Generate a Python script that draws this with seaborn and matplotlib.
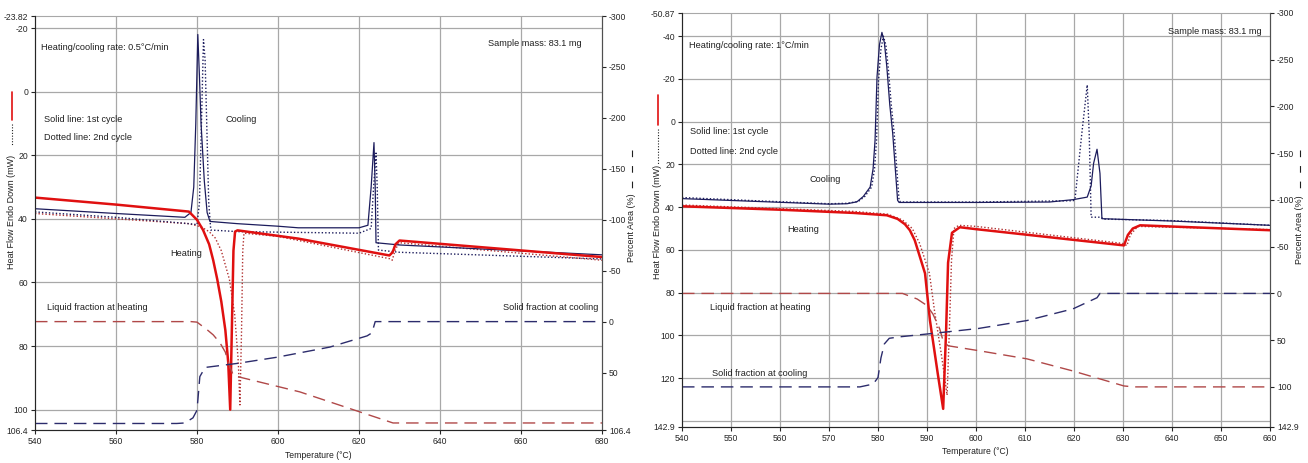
import numpy as np
import pandas as pd
import seaborn as sns
import matplotlib.pyplot as plt
from matplotlib.lines import Line2D

# ---- 0.5 C/min panel (left) ----
# heat flow curves (mW, left axis)
heat1_T_a = [540, 560, 578, 580, 581.5, 583, 584, 585, 586, 587, 587.7, 588.2, 588.6, 589.0, 589.4, 590, 605, 627.5, 628.3, 629, 630, 680]
heat1_v_a = [33.3, 35.5, 37.7, 40.3, 43.5, 48, 53, 59, 66, 75, 85, 100, 75, 50, 44, 43.6, 46.2, 51.5, 50.5, 48, 46.8, 52]
heat2_T_a = [540, 578, 581, 583, 584.5, 586, 588, 589.3, 590.2, 590.6, 591.0, 591.3, 591.6, 600, 627.5, 628.2, 629, 630, 680]
heat2_v_a = [38.3, 41.5, 42.5, 44, 46, 50, 59, 70, 85, 98.5, 75, 50, 44.5, 45.5, 52.5, 53, 49.5, 47.5, 53]
cool1_T_a = [540, 560, 577, 578.5, 579.2, 579.7, 580.2, 580.6, 581.0, 581.8, 582.5, 583.2, 590, 600, 605, 620, 622.2, 623.0, 623.7, 624.0, 624.2, 630, 680]
cool1_v_a = [36.8, 38.3, 39.5, 38, 30, 10, -18, -5, 10, 28, 38, 40.8, 41.5, 42.3, 42.8, 42.8, 42, 30, 16, 30, 47.5, 48.2, 51.3]
cool2_T_a = [540, 560, 578, 580, 580.6, 581.1, 581.6, 582.0, 582.4, 582.9, 583.4, 590, 620, 623, 623.6, 624.2, 624.5, 624.8, 630, 680]
cool2_v_a = [37.8, 39.5, 41.5, 41.8, 35, 10, -16.4, -10, 10, 35, 43.5, 44, 44.5, 43, 30, 19.3, 30, 49.8, 50.5, 52.6]
# percent area curves (%, right axis)
liq_T_a = [540, 578.5, 580, 582.5, 584, 585.7, 587, 587.7, 588.2, 589.0, 605.4, 628.4, 680]
liq_v_a = [0, 0, 0.5, 8, 13, 21, 30, 40, 45, 53, 69, 99.5, 99.5]
sol_T_a = [540, 575, 577, 579, 580, 580.7, 582, 590, 599.7, 612.8, 622, 623.2, 624, 680]
sol_v_a = [100, 100, 99.5, 94.5, 87, 54, 45, 41, 35, 25, 14, 11, 0, 0]

# ---- 1 C/min panel (right) ----
heat1_T_b = [540, 560, 575, 581.8, 584, 585.5, 586.5, 587.5, 589.6, 590.6, 592.2, 593.3, 593.9, 594.3, 595.1, 596.7, 600, 630.2, 631, 632, 633.5, 645, 660]
heat1_v_b = [39.6, 41.2, 42.7, 43.8, 45.5, 48, 50.8, 55.5, 71, 93, 118, 134.4, 97.7, 66, 52, 49.4, 50.3, 57.9, 53, 50, 48.5, 49.5, 50.8]
heat2_T_b = [540, 575, 582, 585, 587, 588.5, 590.5, 591.5, 593, 594.1, 594.6, 595, 595.5, 596.5, 600, 630, 630.8, 631.5, 633, 660]
heat2_v_b = [39, 42, 43.3, 46, 50, 57, 71, 88, 110, 128, 95, 65, 50, 48.5, 49, 57, 58, 53, 49, 50.5]
cool1_T_b = [540, 555, 570, 573.7, 575.7, 577, 578.4, 579, 579.4, 579.8, 580.3, 580.8, 581.3, 581.8, 582.4, 583, 584, 584.3, 600, 615, 619.8, 622.7, 623.5, 624, 624.7, 625.3, 625.7, 640, 660]
cool1_v_b = [36, 37.3, 38.6, 38.4, 37.5, 35, 30.6, 22, 8.6, -21, -36, -41.8, -37, -25.7, -8, 5.4, 36.8, 37.8, 37.8, 37.6, 36.5, 35.3, 30, 19.5, 12.9, 24.2, 45.4, 46.5, 48.5]
cool2_T_b = [540, 555, 570, 573.7, 576, 577.3, 578.7, 579.3, 579.7, 580.1, 580.6, 581.1, 581.6, 582.1, 582.7, 583.3, 584.3, 584.6, 600, 619.8, 620.2, 621.6, 622.7, 623.1, 623.5, 625.5, 626, 640, 660]
cool2_v_b = [35.5, 37, 38.4, 38.2, 37.3, 35, 30.6, 22, 8.6, -19, -34, -40, -36, -25, -8, 5.4, 36.8, 37.6, 37.6, 37, 36.4, 5.4, -17.2, 5.4, 44.7, 44.7, 45.6, 46.3, 48.5]
liq_T_b = [540, 585, 588, 590, 591.2, 592.6, 593.3, 594.3, 600.5, 610.4, 619.8, 630.2, 632.3, 660]
liq_v_b = [0, 0, 6, 13, 22, 38, 51, 56, 61.2, 70, 83, 99, 100, 100]
sol_T_b = [540, 576.3, 579, 580, 580.6, 581.3, 582.3, 584.5, 592.6, 600.5, 610.4, 619.8, 624.7, 625.3, 660]
sol_v_b = [100, 100, 97, 90, 69, 54, 48, 46.4, 42, 37.5, 29, 16.5, 4.6, 0, 0]

W, H = 1308, 463
RED = "#e01010"
RED_DOT = "#b03030"
NAVY = "#1c1c5c"
LIQ = "#b04848"
SOL = "#2c2c6c"
GRID = "#a8a8a8"

sns.set_style("white")
plt.rcParams['font.family'] = ['Liberation Sans Narrow', 'Liberation Sans', 'DejaVu Sans']
fig = plt.figure(figsize=(W / 100, H / 100), dpi=100)


def px(x, y):
    return x / W, 1 - y / H


def make_panel(rect, xticks, lticks, lgrid, rticks, ylim_l, ylim_r, curves, fracs):
    ax = fig.add_axes(rect)
    for T, v, col, lw, ls in curves:
        sns.lineplot(x=T, y=v, ax=ax, color=col, lw=lw, linestyle=ls, sort=False, estimator=None)
    ax.set_xlim(xticks[0], xticks[-1])
    ax.set_ylim(*ylim_l)
    ax.set_xticks(xticks)
    ax.set_yticks(lticks)
    ax.set_yticklabels([f"{t:g}" for t in lticks])
    for t in xticks[1:-1]:
        ax.axvline(t, color=GRID, lw=0.9, zorder=0)
    for t in lgrid:
        ax.axhline(t, color=GRID, lw=0.9, zorder=0)
    ax.set_xlabel("")
    ax.set_ylabel("")
    ax.tick_params(direction="out", length=3, width=0.8, labelsize=6.2, pad=2, left=True, bottom=True)
    for s in ["left", "bottom", "right"]:
        ax.spines[s].set_color("#505050")
    ax.spines["top"].set_color(GRID)

    ax2 = ax.twinx()
    for T, v, col in fracs:
        sns.lineplot(x=T, y=v, ax=ax2, color=col, lw=1.0, linestyle=(0, (9, 5)), sort=False, estimator=None)
    ax2.set_ylim(*ylim_r)
    ax2.set_yticks(rticks)
    ax2.set_yticklabels([f"{t:g}" for t in rticks])
    ax2.set_ylabel("")
    ax2.tick_params(direction="out", length=3, width=0.8, labelsize=6.2, pad=2, right=True)
    ax2.spines["right"].set_color("#505050")
    ax2.spines["top"].set_visible(False)
    return ax, ax2


ax_a, ax2_a = make_panel(
    [35 / W, 1 - 430 / H, (602 - 35) / W, (430 - 16) / H],
    [540, 560, 580, 600, 620, 640, 660, 680],
    [-23.82, -20, 0, 20, 40, 60, 80, 100, 106.4],
    [-20, 0, 20, 40, 60, 80, 100],
    [-300, -250, -200, -150, -100, -50, 0, 50, 106.4],
    (106.4, -23.82), (106.4, -300),
    [(heat2_T_a, heat2_v_a, RED_DOT, 1.0, (0, (1, 1.5))),
     (cool2_T_a, cool2_v_a, NAVY, 1.0, (0, (1, 1.5))),
     (cool1_T_a, cool1_v_a, NAVY, 0.9, "-"),
     (heat1_T_a, heat1_v_a, RED, 1.8, "-")],
    [(liq_T_a, liq_v_a, LIQ), (sol_T_a, sol_v_a, SOL)])

ax_b, ax2_b = make_panel(
    [682 / W, 1 - 427 / H, (1270 - 682) / W, (427 - 13) / H],
    list(range(540, 661, 10)),
    [-50.87, -40, -20, 0, 20, 40, 60, 80, 100, 120, 142.9],
    [-40, -20, 0, 20, 40, 60, 80, 100, 120, 140],
    [-300, -250, -200, -150, -100, -50, 0, 50, 100, 142.9],
    (142.9, -50.87), (142.9, -300),
    [(heat2_T_b, heat2_v_b, RED_DOT, 1.0, (0, (1, 1.5))),
     (cool2_T_b, cool2_v_b, NAVY, 1.0, (0, (1, 1.5))),
     (cool1_T_b, cool1_v_b, NAVY, 0.9, "-"),
     (heat1_T_b, heat1_v_b, RED, 1.8, "-")],
    [(liq_T_b, liq_v_b, LIQ), (sol_T_b, sol_v_b, SOL)])

# annotations (pixel positions of the reference)
notes = [
    (41, 48, "Heating/cooling rate: 0.5°C/min"),
    (44, 120, "Solid line: 1st cycle"),
    (44, 138, "Dotted line: 2nd cycle"),
    (225, 120, "Cooling"),
    (488, 43, "Sample mass: 83.1 mg"),
    (170, 254, "Heating"),
    (47, 307, "Liquid fraction at heating"),
    (503, 308, "Solid fraction at cooling"),
    (689, 45, "Heating/cooling rate: 1°C/min"),
    (690, 132, "Solid line: 1st cycle"),
    (690, 151, "Dotted line: 2nd cycle"),
    (810, 179, "Cooling"),
    (787, 229, "Heating"),
    (1168, 32, "Sample mass: 83.1 mg"),
    (710, 307, "Liquid fraction at heating"),
    (712, 374, "Solid fraction at cooling"),
]
for x, y, s in notes:
    fig.text(*px(x, y), s, ha="left", va="center", fontsize=6.6, color="#202020")

for x, y in [(318, 455), (975, 452)]:
    fig.text(*px(x, y), "Temperature (°C)", ha="center", va="center", fontsize=6.2, color="#202020")

# axis titles with their line keys
lab_font = ['Liberation Sans', 'DejaVu Sans']
for x, yc, y0, y1, y2 in [(12, 212, 92, 120, 145), (658, 222, 95, 125, 165)]:
    fig.text(*px(x, yc), "Heat Flow Endo Down (mW)", rotation=90, ha="center", va="center",
             fontsize=6.5, color="#202020", family=lab_font)
    fig.add_artist(Line2D([x / W, x / W], [1 - y0 / H, 1 - y1 / H], color=RED, lw=1.2))
    fig.add_artist(Line2D([x / W, x / W], [1 - (y1 + 4) / H, 1 - y2 / H], color="#202020", lw=0.8,
                          linestyle=(0, (1, 1.5))))
for x, yc, y0, y1 in [(632, 228, 150, 193), (1300, 230, 150, 190)]:
    fig.text(*px(x, yc), "Percent Area (%)", rotation=90, ha="center", va="center",
             fontsize=6.5, color="#202020", family=lab_font)
    fig.add_artist(Line2D([x / W, x / W], [1 - y0 / H, 1 - y1 / H], color="#202020", lw=0.8,
                          linestyle=(0, (6, 8))))

fig.savefig("out.png", dpi=100)
